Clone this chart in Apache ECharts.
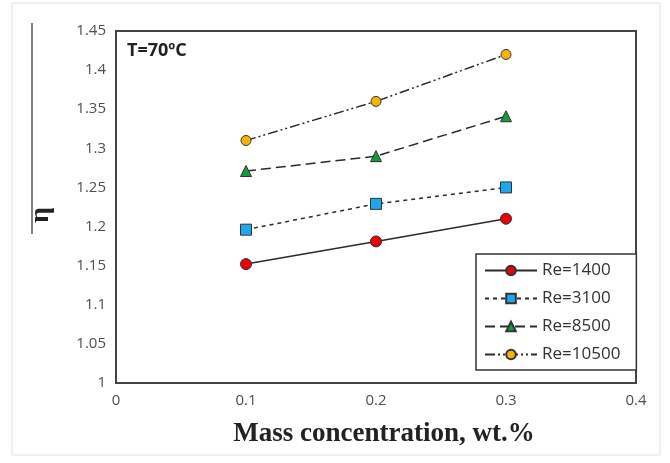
<!DOCTYPE html>
<html>
<head>
<meta charset="utf-8">
<script src="https://cdn.jsdelivr.net/npm/echarts@6/dist/echarts.min.js"></script>
<style>
  html, body { margin: 0; padding: 0; background: #fff; }
  #chart { width: 670px; height: 463px; }
</style>
</head>
<body>
<div id="chart"></div>
<script>
// values
var concentration = [0.1, 0.2, 0.3]
var re1400 = [1.152, 1.181, 1.21]
var re3100 = [1.196, 1.229, 1.25]
var re8500 = [1.271, 1.29, 1.341]
var re10500 = [1.31, 1.36, 1.42]
var seriesNames = ['Re=1400', 'Re=3100', 'Re=8500', 'Re=10500']

function pairs(ys) {
    return concentration.map(function (x, i) { return [x, ys[i]] })
}

function line(name, ys, symbol, color, dash, size) {
    return {
        name: name,
        type: 'line',
        data: pairs(ys),
        symbol: symbol,
        symbolSize: size,
        lineStyle: { color: '#2b2b2b', width: 1.5, type: dash },
        itemStyle: { color: color, borderColor: '#333', borderWidth: 1 }
    }
}

var chart = echarts.init(document.getElementById('chart'))
var labelFont = { color: '#505050', fontSize: 15, fontFamily: 'Open Sans' }

chart.setOption({
    animation: false,
    backgroundColor: '#fff',
    grid: {
        left: 116, right: 34, top: 31, bottom: 80,
        show: true, borderColor: '#444', borderWidth: 2
    },
    xAxis: {
        type: 'value', min: 0, max: 0.4, interval: 0.1,
        name: 'Mass concentration, wt.%',
        nameLocation: 'middle', nameGap: 38,
        nameTextStyle: {
            fontFamily: 'Liberation Serif', fontWeight: 'bold', fontSize: 27, color: '#222',
            padding: [0, 0, 0, 16]
        },
        axisLine: { show: false }, axisTick: { show: false },
        splitLine: { show: false },
        axisLabel: Object.assign({ margin: 10 }, labelFont)
    },
    yAxis: {
        type: 'value', min: 1, max: 1.45, interval: 0.05,
        axisLine: { show: false }, axisTick: { show: false },
        splitLine: { show: false },
        axisLabel: Object.assign({ margin: 10 }, labelFont)
    },
    legend: {
        data: seriesNames,
        orient: 'vertical',
        left: 476, top: 254,
        width: 160,
        itemWidth: 52, itemHeight: 12, itemGap: 11,
        padding: [8, 16, 7, 8],
        borderColor: '#333', borderWidth: 1.5,
        backgroundColor: '#fff',
        textStyle: { color: '#333', fontSize: 17, fontFamily: 'Open Sans' }
    },
    graphic: [
        {
            type: 'rect', shape: { x: 12, y: 3, width: 648, height: 452 },
            style: { fill: 'none', stroke: '#e2e2e2', lineWidth: 1 }, silent: true, z: -1
        },
        {
            type: 'line', shape: { x1: 32, y1: 23, x2: 32, y2: 234 },
            style: { stroke: '#555', lineWidth: 1.5 }, silent: true
        },
        {
            type: 'text', x: 41, y: 215, rotation: Math.PI / 2,
            style: {
                text: 'η', fontSize: 28, fontWeight: 'bold', fontFamily: 'Liberation Serif',
                fill: '#222', textAlign: 'center', textVerticalAlign: 'middle'
            }
        },
        {
            type: 'text', left: 127, top: 42,
            style: { text: 'T=70ºC', fontSize: 18, fontWeight: 'bold', fontFamily: 'Open Sans', fill: '#222' }
        }
    ],
    series: [
        line(seriesNames[0], re1400, 'circle', '#e8000b', 'solid', 11),
        line(seriesNames[1], re3100, 'rect', '#1ea6ee', [4, 4], 11),
        line(seriesNames[2], re8500, 'triangle', '#14993c', [10, 5], 11),
        line(seriesNames[3], re10500, 'circle', '#f6b400', [10, 3, 2, 3, 2, 3], 10)
    ]
})
</script>
</body>
</html>
